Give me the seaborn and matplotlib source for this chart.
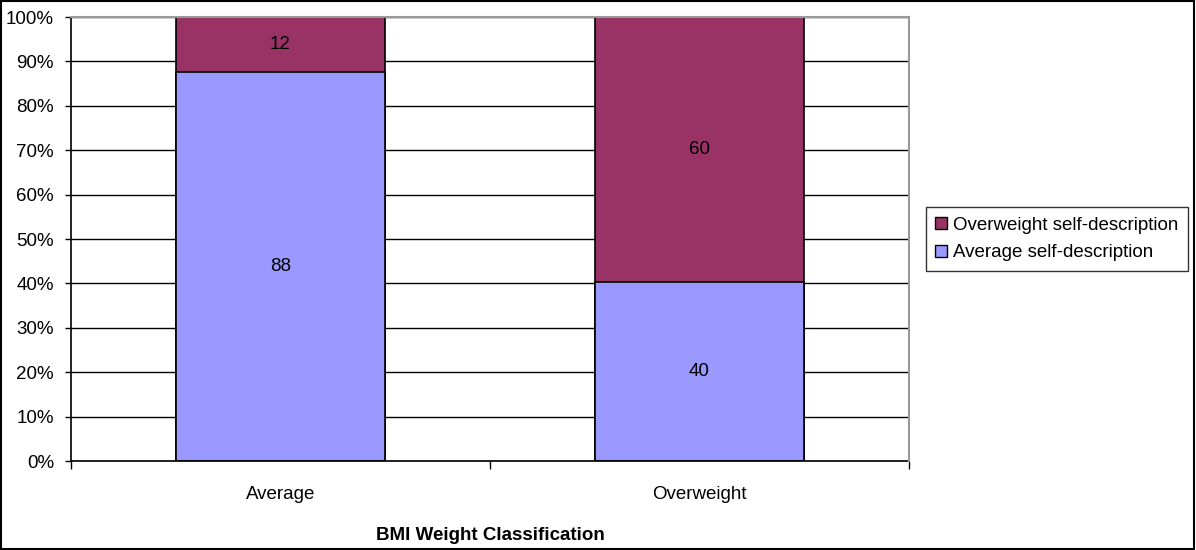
import matplotlib
matplotlib.use("Agg")
import matplotlib.pyplot as plt
import seaborn as sns
import pandas as pd
from matplotlib.patches import Patch, Rectangle
from matplotlib.ticker import FixedLocator, PercentFormatter

# data (percent of each BMI group)
categories = ["Average", "Overweight"]
average_self = [87.6, 40.3]
overweight_self = [12.4, 59.7]
series_names = ["Overweight self-description", "Average self-description"]

col_over = "#993366"
col_avg = "#9999FF"

sns.set_style("white")
plt.rcParams['font.family'] = ['Liberation Sans', 'DejaVu Sans']
for key in ["text.color", "axes.labelcolor", "xtick.color", "ytick.color"]:
    plt.rcParams[key] = "black"

fs = 13.5

df = pd.DataFrame({
    "group": categories,
    "average": average_self,
    "overweight": overweight_self,
})
df["total"] = df["average"] + df["overweight"]

fig = plt.figure(figsize=(11.96, 5.5), dpi=100)
ax = fig.add_axes([71 / 1196, 89 / 550, 838 / 1196, 444 / 550])

# stacked bars: full bar in top colour, lower part drawn over it
sns.barplot(data=df, x="group", y="total", color=col_over, width=0.5,
            edgecolor="black", linewidth=1.2, saturation=1, ax=ax)
sns.barplot(data=df, x="group", y="average", color=col_avg, width=0.5,
            edgecolor="black", linewidth=1.2, saturation=1, ax=ax)

for i, row in df.iterrows():
    ax.text(i, row["average"] / 2, f"{row['average']:.0f}",
            ha="center", va="center", fontsize=fs)
    ax.text(i, row["average"] + row["overweight"] / 2, f"{row['overweight']:.0f}",
            ha="center", va="center", fontsize=fs)

ax.set_xlim(-0.5, 1.5)
ax.set_ylim(0, 100)
ax.yaxis.set_major_locator(FixedLocator(range(0, 101, 10)))
ax.yaxis.set_major_formatter(PercentFormatter(decimals=0))
ax.grid(axis="y", color="black", linewidth=1)
ax.set_axisbelow(True)

ax.xaxis.set_minor_locator(FixedLocator([-0.5, 0.5, 1.5]))
ax.tick_params(axis="x", which="major", length=0, pad=18, labelsize=fs)
ax.tick_params(axis="x", which="minor", length=6, width=1, color="black", direction="out")
ax.tick_params(axis="y", length=4.3, width=1, color="black", direction="out", labelsize=fs, pad=8)
ax.xaxis.set_ticks_position("bottom")
ax.yaxis.set_ticks_position("left")

for side in ["left", "bottom"]:
    ax.spines[side].set_color("black")
    ax.spines[side].set_linewidth(1.2)
for side in ["top", "right"]:
    ax.spines[side].set_color("#999999")
    ax.spines[side].set_linewidth(1.5)
    ax.spines[side].set_zorder(3)

ax.set_xlabel("BMI Weight Classification", fontsize=fs, fontweight="bold", labelpad=17)
ax.set_ylabel("")

handles = [Patch(facecolor=col_over, edgecolor="black"),
           Patch(facecolor=col_avg, edgecolor="black")]
leg = fig.legend(handles, series_names, loc="center left",
                 bbox_to_anchor=(926 / 1196, 311 / 550), fontsize=fs,
                 frameon=True, fancybox=False, handlelength=0.6, handleheight=0.6,
                 handletextpad=0.35, borderpad=0.5, labelspacing=0.55, borderaxespad=0)
leg.get_frame().set_edgecolor("black")
leg.get_frame().set_linewidth(1)

# outer chart border
fig.patches.append(Rectangle((0.001, 0.002), 0.997, 0.996, transform=fig.transFigure,
                             fill=False, edgecolor="black", linewidth=1.5))

fig.savefig("out.png", dpi=100)
